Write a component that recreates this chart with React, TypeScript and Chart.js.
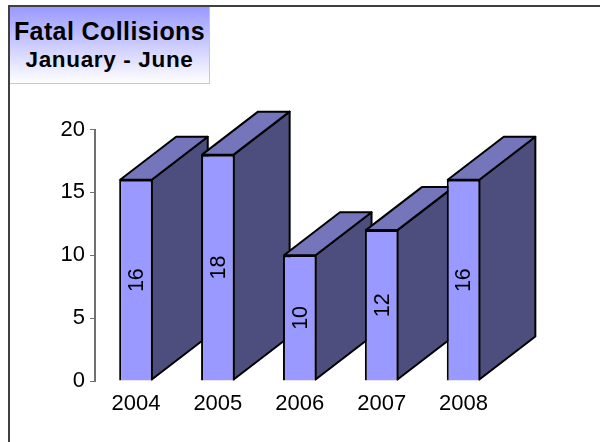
import React, { useEffect, useRef } from "react";
import { Chart, registerables } from "chart.js";

Chart.register(...registerables);

const categories = ["2004", "2005", "2006", "2007", "2008"];
const collisions = [16, 18, 10, 12, 16];
const yTicks = [0, 5, 10, 15, 20];
const titleLine = "Fatal Collisions";
const subtitleLine = "January - June";

const DEPTH_X = 56;
const DEPTH_Y = 43;
const FRONT = "#9999ff";
const TOP = "#7575bc";
const SIDE = "#4d4d7e";
const FONT = "'Liberation Sans', Arial, sans-serif";

const poly = (ctx: CanvasRenderingContext2D, pts: number[][], fill: string) => {
  ctx.beginPath();
  pts.forEach(([x, y], i) => (i ? ctx.lineTo(x, y) : ctx.moveTo(x, y)));
  ctx.closePath();
  ctx.fillStyle = fill;
  ctx.fill();
  ctx.stroke();
};

const depthPlugin = {
  id: "depth",
  beforeDatasetsDraw(chart: any) {
    const { ctx } = chart;
    ctx.save();
    ctx.lineWidth = 2;
    ctx.strokeStyle = "#000";
    ctx.lineJoin = "round";
    chart.getDatasetMeta(0).data.forEach((bar: any) => {
      const { x, y, base, width } = bar.getProps(["x", "y", "base", "width"], true);
      const r = x + width / 2 - 1;
      const l = x - width / 2 + 1;
      poly(ctx, [[r, y], [r + DEPTH_X, y - DEPTH_Y], [r + DEPTH_X, base - 1 - DEPTH_Y], [r, base - 1]], SIDE);
      poly(ctx, [[l, y], [l + DEPTH_X, y - DEPTH_Y], [r + DEPTH_X, y - DEPTH_Y], [r, y]], TOP);
    });
    ctx.restore();
  },
  afterDatasetsDraw(chart: any) {
    const { ctx } = chart;
    ctx.save();
    ctx.fillStyle = "#000";
    ctx.font = `21.5px ${FONT}`;
    ctx.textAlign = "center";
    ctx.textBaseline = "middle";
    chart.getDatasetMeta(0).data.forEach((bar: any, i: number) => {
      const { x, y, base } = bar.getProps(["x", "y", "base"], true);
      ctx.save();
      ctx.translate(x + 1, (y + base) / 2);
      ctx.rotate(-Math.PI / 2);
      ctx.fillText(String(collisions[i]), 0, 0);
      ctx.restore();
    });
    ctx.restore();
  },
};

export default function App() {
  const ref = useRef<HTMLCanvasElement>(null);

  useEffect(() => {
    document.body.style.margin = "0";
    const chart = new Chart(ref.current!, {
      type: "bar",
      data: {
        labels: categories,
        datasets: [
          {
            data: collisions,
            backgroundColor: FRONT,
            borderColor: "#000",
            borderWidth: 2,
            barPercentage: 0.41,
            categoryPercentage: 1,
          },
        ],
      },
      options: {
        animation: false,
        responsive: false,
        layout: { padding: { top: 129.5, right: 95.5, bottom: 0, left: 0 } },
        plugins: { legend: { display: false }, tooltip: { enabled: false } },
        scales: {
          x: {
            grid: { display: false },
            border: { display: false },
            ticks: { color: "#000", font: { family: FONT, size: 22 }, padding: 2, maxRotation: 0 },
            afterFit: (s: any) => { s.height = 61; },
          },
          y: {
            min: 0,
            max: 20,
            afterBuildTicks: (s: any) => { s.ticks = yTicks.map((value) => ({ value })); },
            grid: { drawOnChartArea: false, drawTicks: true, tickLength: 5, color: "#707070", lineWidth: 1 },
            border: { display: true, color: "#707070", width: 2 },
            ticks: { color: "#000", font: { family: FONT, size: 22 }, padding: 5 },
            afterFit: (s: any) => { s.width = 95; },
          },
        },
      },
      plugins: [depthPlugin],
    } as any);
    return () => chart.destroy();
  }, []);

  return (
    <div style={{ position: "relative", width: 600, height: 442, overflow: "hidden", background: "#fff" }}>
      <canvas ref={ref} width={600} height={442} style={{ display: "block" }} />
      <div
        style={{
          position: "absolute",
          left: 8,
          top: 5,
          width: 600,
          height: 440,
          borderLeft: "2px solid #404040",
          borderTop: "2px solid #404040",
          boxSizing: "border-box",
          pointerEvents: "none",
        }}
      />
      <div
        style={{
          position: "absolute",
          left: 10,
          top: 7,
          width: 200,
          height: 77,
          boxSizing: "border-box",
          borderRight: "1px solid #c8c8c8",
          borderBottom: "1px solid #c8c8c8",
          background: "linear-gradient(#9999ff, #ffffff)",
          fontFamily: FONT,
          fontWeight: "bold",
          textAlign: "center",
          color: "#000",
          whiteSpace: "nowrap",
        }}
      >
        <div style={{ fontSize: 25, letterSpacing: "0.4px", lineHeight: "26px", marginTop: 11 }}>{titleLine}</div>
        <div style={{ fontSize: 22.5, letterSpacing: "0.65px", lineHeight: "26px", marginTop: 3 }}>{subtitleLine}</div>
      </div>
    </div>
  );
}
